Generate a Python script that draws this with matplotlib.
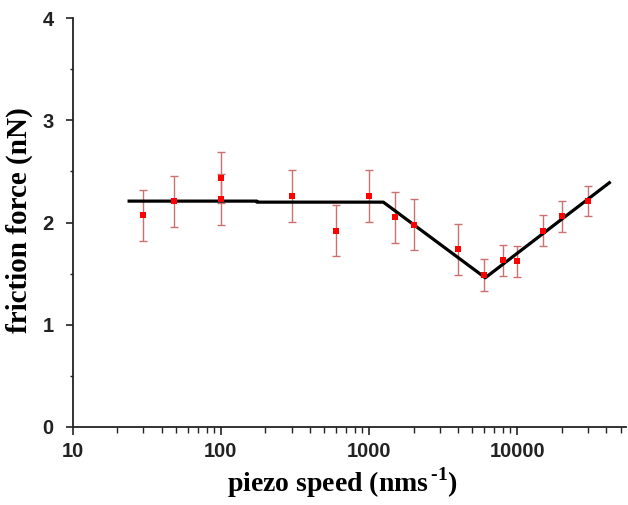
import numpy as np
import matplotlib.pyplot as plt
from matplotlib.ticker import LogLocator, MultipleLocator, FixedLocator

plt.rcParams['mathtext.fontset'] = 'custom'
plt.rcParams['mathtext.rm'] = 'Liberation Serif'
plt.rcParams['mathtext.bf'] = 'Liberation Serif:bold'

# measured points (piezo speed in nm/s, friction force in nN)
speed = [30, 48, 100, 100, 300, 600, 1000, 1500, 2000, 4000, 6000, 8000, 10000, 15000, 20000, 30000]
force = [2.07, 2.21, 2.44, 2.23, 2.26, 1.92, 2.26, 2.05, 1.98, 1.74, 1.49, 1.63, 1.62, 1.92, 2.06, 2.21]
err = [0.25, 0.25, 0.25, 0.25, 0.25, 0.25, 0.25, 0.25, 0.25, 0.25, 0.155, 0.155, 0.15, 0.15, 0.15, 0.15]

# piecewise fit line
fit_x = [24, 175, 175, 1250, 6100, 42000]
fit_y = [2.21, 2.21, 2.20, 2.20, 1.46, 2.39]

fig = plt.figure(figsize=(6.28, 5.05), dpi=100)
ax = fig.add_axes([0.116, 0.1545, 0.881, 0.8095])

ax.errorbar(speed, force, yerr=err, fmt='none', ecolor='#cc7070', elinewidth=1.0,
            capsize=3, capthick=1.0, zorder=2)
ax.plot(fit_x, fit_y, color='black', linewidth=2.3, zorder=3)
ax.plot(speed, force, 's', color='#ff0000', markersize=5, markeredgewidth=0, zorder=4)

ax.set_xscale('log')
ax.set_xlim(10, 54500)
ax.set_ylim(0, 4)

ax.xaxis.set_major_locator(FixedLocator([10, 100, 1000, 10000]))
ax.xaxis.set_minor_locator(LogLocator(base=10, subs=np.arange(2, 10), numticks=20))
ax.set_xticklabels(['10', '100', '1000', '10000'])
ax.yaxis.set_major_locator(MultipleLocator(1))
ax.yaxis.set_minor_locator(MultipleLocator(0.5))

for s in ['top', 'right']:
    ax.spines[s].set_visible(False)
for s in ['left', 'bottom']:
    ax.spines[s].set_linewidth(1.3)
    ax.spines[s].set_color('#222222')

ax.tick_params(which='major', direction='out', width=1.2, colors='#222222')
ax.tick_params(which='minor', direction='out', width=1.0, colors='#222222')
ax.tick_params(axis='x', which='major', length=6, pad=5)
ax.tick_params(axis='x', which='minor', length=4)
ax.tick_params(axis='y', which='major', length=5, pad=9)
ax.tick_params(axis='y', which='minor', length=2.5)
for lab in ax.get_xticklabels() + ax.get_yticklabels():
    lab.set_fontfamily('Liberation Sans')
    lab.set_fontweight('bold')
    lab.set_fontsize(14.5)

ax.set_xlabel('piezo speed (nms$^{\\mathbf{\\,\u2010 1}}$)', fontfamily='Liberation Serif',
              fontweight='bold', fontsize=20)
ax.set_ylabel('friction force (nN)', fontfamily='Liberation Serif',
              fontweight='bold', fontsize=21)
ax.xaxis.set_label_coords(0.487, -0.093)
ax.yaxis.set_label_coords(-0.072, 0.505)

fig.savefig('out.png', dpi=100)
